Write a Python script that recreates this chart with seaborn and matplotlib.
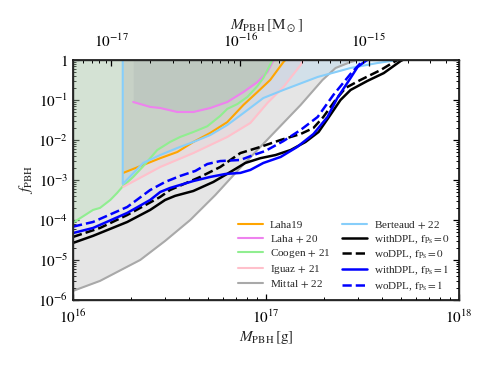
import numpy as np
import pandas as pd
import matplotlib
matplotlib.use("Agg")
import matplotlib.pyplot as plt
import seaborn as sns

# ---------------- data ----------------
M_SUN = 1.989e33  # g

laha19_m = [1.82e16, 2.31e16, 2.83e16, 3.47e16, 4.2e16, 5.14e16, 6.3e16, 7.63e16, 9.02e16, 1.05e17, 1.23e17, 1.26e17]
laha19_f = [1.5e-3, 2.37e-3, 3.5e-3, 5.0e-3, 8.9e-3, 1.5e-2, 2.8e-2, 7.5e-2, 0.158, 0.316, 0.89, 1.0]

laha20_m = [2.05e16, 2.51e16, 2.83e16, 3.47e16, 4.2e16, 5.14e16, 6.3e16, 7.63e16, 9.02e16, 1.016e17, 1.08e17, 1.1e17]
laha20_f = [0.089, 0.067, 0.063, 0.050, 0.050, 0.063, 0.089, 0.158, 0.28, 0.50, 0.89, 1.0]

coogen_m = [1.0e16, 1.27e16, 1.38e16, 1.56e16, 1.69e16, 1.80e16, 2.05e16, 2.31e16, 2.73e16, 3.18e16, 3.59e16, 4.2e16, 4.96e16, 5.79e16, 6.3e16, 7.1e16, 8.0e16, 9.0e16, 9.68e16, 1.08e17]
coogen_f = [8.5e-5, 1.78e-4, 2.0e-4, 3.16e-4, 4.7e-4, 6.7e-4, 1.19e-3, 2.2e-3, 5.6e-3, 8.9e-3, 1.19e-2, 1.58e-2, 2.2e-2, 4.0e-2, 6.0e-2, 7.9e-2, 0.119, 0.22, 0.355, 1.0]

iguaz_m = [1.82e16, 2.83e16, 4.2e16, 6.3e16, 8.29e16, 1.016e17, 1.23e17, 1.51e17, 1.56e17]
iguaz_f = [6.7e-4, 2.11e-3, 4.7e-3, 1.19e-2, 2.66e-2, 8.4e-2, 0.211, 0.75, 1.0]

mittal_m = [1.0e16, 1.38e16, 2.23e16, 3.0e16, 4.05e16, 5.46e16, 7.18e16, 9.34e16, 1.51e17, 1.96e17, 2.29e17, 2.74e17, 3.0e17]
mittal_f = [1.68e-6, 2.99e-6, 1.0e-5, 2.99e-5, 1.0e-4, 4.2e-4, 1.78e-3, 6.7e-3, 0.075, 0.316, 0.63, 0.89, 1.0]

berteaud_m = [1.81e16, 1.8101e16, 2.31e16, 2.83e16, 3.47e16, 4.2e16, 5.14e16, 6.3e16, 7.63e16, 9.68e16, 1.23e17, 1.85e17, 2.74e17, 3.78e17, 4.42e17, 4.98e17]
berteaud_f = [1.0, 7.9e-4, 2.66e-3, 4.2e-3, 6.3e-3, 8.9e-3, 1.33e-2, 2.37e-2, 4.7e-2, 0.112, 0.178, 0.376, 0.63, 0.84, 0.94, 1.0]

with0_m = [1.0e16, 1.27e16, 1.91e16, 2.51e16, 3.0e16, 3.38e16, 4.2e16, 5.33e16, 6.53e16, 7.81e16, 9.34e16, 1.12e17, 1.34e17, 1.60e17, 1.87e17, 2.10e17, 2.43e17, 2.74e17, 3.35e17, 4.07e17, 4.98e17, 5.1e17]
with0_f = [2.66e-5, 4.0e-5, 8.9e-5, 1.78e-4, 3.16e-4, 4.0e-4, 5.3e-4, 8.9e-4, 1.58e-3, 2.66e-3, 3.5e-3, 4.2e-3, 5.6e-3, 8.9e-3, 1.58e-2, 3.55e-2, 0.1, 0.178, 0.30, 0.47, 0.944, 1.0]

wo0_m = [1.0e16, 1.38e16, 1.91e16, 2.83e16, 3.18e16, 4.56e16, 5.79e16, 7.36e16, 9.34e16, 1.19e17, 1.51e17, 1.76e17, 1.98e17, 2.29e17, 2.58e17, 3.08e17, 3.92e17, 4.69e17, 4.8e17]
wo0_f = [3.76e-5, 6.3e-5, 1.33e-4, 3.76e-4, 5.6e-4, 1.19e-3, 2.11e-3, 4.7e-3, 6.7e-3, 1.0e-2, 1.41e-2, 2.0e-2, 3.76e-2, 0.1, 0.2, 0.316, 0.56, 0.944, 1.0]

with1_m = [1.0e16, 1.27e16, 1.91e16, 2.51e16, 2.83e16, 3.18e16, 4.2e16, 5.14e16, 6.15e16, 7.36e16, 8.29e16, 9.68e16, 1.19e17, 1.45e17, 1.76e17, 2.08e17, 2.34e17, 2.74e17, 2.98e17, 3.28e17, 3.35e17]
with1_f = [4.7e-5, 6.3e-5, 1.5e-4, 3.16e-4, 5.0e-4, 6.3e-4, 9.4e-4, 1.19e-3, 1.41e-3, 1.5e-3, 1.78e-3, 2.66e-3, 3.76e-3, 6.7e-3, 1.41e-2, 3.76e-2, 0.112, 0.355, 0.67, 0.944, 1.0]

wo1_m = [1.0e16, 1.27e16, 1.91e16, 2.51e16, 3.0e16, 3.59e16, 4.3e16, 4.96e16, 5.79e16, 7.36e16, 8.6e16, 9.91e16, 1.23e17, 1.51e17, 1.85e17, 2.23e17, 2.74e17, 3.16e17, 3.2e17]
wo1_f = [6.8e-5, 8.9e-5, 2.11e-4, 5.6e-4, 8.9e-4, 1.26e-3, 1.68e-3, 2.5e-3, 2.97e-3, 3.16e-3, 4.2e-3, 5.3e-3, 9.4e-3, 1.78e-2, 3.76e-2, 0.133, 0.45, 0.944, 1.0]

ytick_vals = [1e-6, 1e-5, 1e-4, 1e-3, 1e-2, 1e-1, 1]
ytick_labels = [r"$10^{-6}$", r"$10^{-5}$", r"$10^{-4}$", r"$10^{-3}$", r"$10^{-2}$", r"$10^{-1}$", r"$1$"]
xtick_vals = [1e16, 1e17, 1e18]
xtick_labels = [r"$10^{16}$", r"$10^{17}$", r"$10^{18}$"]
top_tick_vals = [1e-17, 1e-16, 1e-15]
top_tick_labels = [r"$10^{-17}$", r"$10^{-16}$", r"$10^{-15}$"]

# ---------------- style ----------------
sns.set_theme(style="ticks")
plt.rcParams["font.family"] = ["Liberation Serif", "DejaVu Serif"]
plt.rcParams["mathtext.fontset"] = "stix"
plt.rcParams["axes.linewidth"] = 1.0

fig = plt.figure(figsize=(4.9, 3.68), dpi=100)
ax = fig.add_axes([0.149, 0.185, 0.788, 0.652])

constraints = [
    ("Laha19", laha19_m, laha19_f, "orange", "orange", 0.2),
    (r"Laha$\,+\,$20", laha20_m, laha20_f, "violet", "gray", 0.2),
    (r"Coogen$\,+\,$21", coogen_m, coogen_f, "lightgreen", "lightgreen", 0.2),
    (r"Iguaz$\,+\,$21", iguaz_m, iguaz_f, "pink", "pink", 0.2),
    (r"Mittal$\,+\,$22", mittal_m, mittal_f, "darkgray", "darkgray", 0.3),
    (r"Berteaud$\,+\,$22", berteaud_m, berteaud_f, "lightskyblue", "lightskyblue", 0.2),
]

for name, m, f, lc, fc, a in constraints:
    ax.fill_between(m, f, 1.0, color=fc, alpha=a, lw=0)

for name, m, f, lc, fc, a in constraints:
    df = pd.DataFrame({"m": m, "f": f})
    sns.lineplot(data=df, x="m", y="f", ax=ax, color=lc, lw=1.5, sort=False,
                 estimator=None, label=name)

mains = [
    (r"withDPL, $\mathrm{f_{Ps}=0}$", with0_m, with0_f, "black", "-"),
    (r"woDPL, $\mathrm{f_{Ps}=0}$", wo0_m, wo0_f, "black", "--"),
    (r"withDPL, $\mathrm{f_{Ps}=1}$", with1_m, with1_f, "blue", "-"),
    (r"woDPL, $\mathrm{f_{Ps}=1}$", wo1_m, wo1_f, "blue", "--"),
]
for name, m, f, c, ls in mains:
    df = pd.DataFrame({"m": m, "f": f})
    sns.lineplot(data=df, x="m", y="f", ax=ax, color=c, lw=1.8, ls=ls, sort=False,
                 estimator=None, label=name)

ax.set_xscale("log")
ax.set_yscale("log")
ax.set_xlim(1e16, 1e18)
ax.set_ylim(1e-6, 1)
ax.set_xticks(xtick_vals)
ax.set_xticklabels(xtick_labels)
ax.set_yticks(ytick_vals)
ax.set_yticklabels(ytick_labels)
ax.tick_params(axis="both", which="both", direction="in", top=False, right=True,
               colors="black", labelsize=11)
ax.tick_params(axis="both", which="major", length=4, width=0.9)
ax.tick_params(axis="both", which="minor", length=2, width=0.7)
ax.tick_params(axis="x", which="major", pad=6)
for s in ax.spines.values():
    s.set_color("black")
    s.set_linewidth(1.1)

ax.set_xlabel(r"$M_{\rm PBH}\,[{\rm g}]$", fontsize=11, labelpad=2)
ax.set_ylabel(r"$f_{\rm PBH}$", fontsize=11, labelpad=2)

leg = ax.legend(ncol=2, loc="lower right", bbox_to_anchor=(0.988, 0.01),
                frameon=False, fontsize=8.0, borderaxespad=0.0,
                handlelength=2.25, columnspacing=1.0, labelspacing=0.23,
                handletextpad=0.65)

ax2 = ax.twiny()
ax2.set_xscale("log")
ax2.set_xlim(1e16 / M_SUN, 1e19 / M_SUN)
ax2.set_xticks(top_tick_vals)
ax2.set_xticklabels(top_tick_labels)
ax2.tick_params(axis="x", which="both", direction="in", colors="black", labelsize=11, pad=7)
ax2.tick_params(axis="x", which="major", length=4, width=0.9)
ax2.tick_params(axis="x", which="minor", length=2, width=0.7)
ax2.set_xlabel(r"$M_{\rm PBH}\,[{\rm M_\odot}]$", fontsize=11, va="bottom")
ax2.xaxis.set_label_coords(0.5, 1.11)
ax2.grid(False)

fig.savefig("out.png", dpi=100)
